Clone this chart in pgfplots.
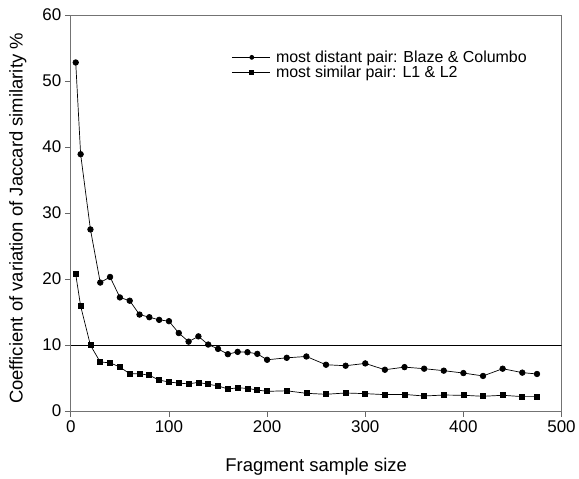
\documentclass[border=0pt]{standalone}
\usepackage{pgfplots}
\pgfplotsset{compat=1.18}
\usepackage{fontspec}
\setmainfont{Liberation Sans}
\begin{document}
\begin{tikzpicture}
\begin{axis}[
  name=ax,
  scale only axis,
  width=492pt, height=397pt,
  xmin=0, xmax=500, ymin=0, ymax=60,
  xtick={0,100,...,500}, ytick={0,10,...,60},
  tick align=outside, tick style={black!60, line width=0.8pt},
  major tick length=6pt,
  axis line style={black!55, line width=0.8pt},
  xtick pos=bottom, ytick pos=left,
  /pgf/number format/assume math mode=true,
  ticklabel style={font=\fontsize{17}{20}\selectfont},
  xlabel={Fragment sample size},
  ylabel={Coefficient of variation of Jaccard similarity \%},
  label style={font=\fontsize{18.5}{22}\selectfont},
  xlabel style={at={(axis description cs:0.5,0)}, anchor=base, yshift=-61pt},
  ylabel style={at={(axis description cs:-0.1077,0.486)}, anchor=center},
  legend style={draw=none, fill=none, at={(axis description cs:0.327,0.915)}, anchor=north west,
    font=\fontsize{16}{19}\selectfont, row sep=-2pt, inner sep=0pt},
  legend cell align=left,
  legend image code/.code={\draw[#1, mark size=2pt] (0pt,0pt) -- (38pt,0pt); \draw[#1, mark size=2pt, mark repeat=1] plot coordinates {(20pt,0pt)}; \path (42pt,0pt);},
]
\addplot[black, line width=0.7pt, mark=*, mark size=2.8pt] coordinates {
(5,52.8) (10,38.9) (20,27.5) (30,19.45) (40,20.3) (50,17.2) (60,16.7) (70,14.6) (80,14.2) (90,13.8) (100,13.6) (110,11.8) (120,10.5) (130,11.3) (140,10.06) (150,9.4) (160,8.6) (170,8.95) (180,8.9) (190,8.65) (200,7.75) (220,8.05) (240,8.25) (260,7.0) (280,6.85) (300,7.2) (320,6.24) (340,6.64) (360,6.4) (380,6.1) (400,5.74) (420,5.3) (440,6.4) (460,5.8) (475,5.6)
};
\addlegendentry{most distant pair: Blaze \& Columbo}
\addplot[black, line width=0.7pt, mark=square*, mark size=2.5pt] coordinates {
(5,20.7) (10,15.9) (20,9.95) (30,7.4) (40,7.3) (50,6.64) (60,5.64) (70,5.64) (80,5.4) (90,4.68) (100,4.38) (110,4.22) (120,4.1) (130,4.33) (140,4.03) (150,3.8) (160,3.32) (170,3.5) (180,3.42) (190,3.17) (200,2.97) (220,3.05) (240,2.67) (260,2.52) (280,2.72) (300,2.62) (320,2.47) (340,2.5) (360,2.26) (380,2.41) (400,2.37) (420,2.22) (440,2.37) (460,2.17) (475,2.17)
};
\addlegendentry{most similar pair: L1 \& L2}
\addplot[black, line width=0.7pt, forget plot] coordinates {(0,10) (500,10)};
\end{axis}
\path (ax.south west) ++(-71pt,-66pt) rectangle ++(579pt,478pt);
\end{tikzpicture}
\end{document}
